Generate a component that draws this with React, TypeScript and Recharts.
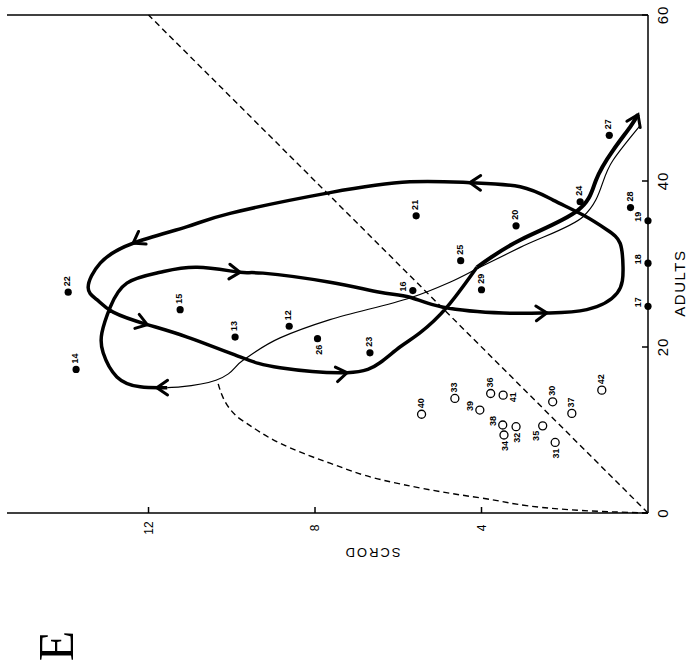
import React from 'react';
import { ComposedChart, XAxis, YAxis, Line, Scatter, ReferenceLine } from 'recharts';

const ADULT_TICKS = [0, 20, 40, 60];
const SCROD_TICKS = [4, 8, 12];

// filled dots: year, adults, scrod
const filledPoints = [
  { id: '12', a: 22.5, s: 8.62 },
  { id: '13', a: 21.2, s: 9.92 },
  { id: '14', a: 17.3, s: 13.74 },
  { id: '15', a: 24.5, s: 11.24 },
  { id: '16', a: 26.8, s: 5.65 },
  { id: '17', a: 24.9, s: 0 },
  { id: '18', a: 30.1, s: 0 },
  { id: '19', a: 35.2, s: 0 },
  { id: '20', a: 34.6, s: 3.17 },
  { id: '21', a: 35.8, s: 5.57 },
  { id: '22', a: 26.6, s: 13.93 },
  { id: '23', a: 19.3, s: 6.68 },
  { id: '24', a: 37.5, s: 1.63 },
  { id: '25', a: 30.4, s: 4.5 },
  { id: '26', a: 21.0, s: 7.94 },
  { id: '27', a: 45.5, s: 0.93 },
  { id: '28', a: 36.8, s: 0.42 },
  { id: '29', a: 26.9, s: 4.0 },
];

// open circles
const openPoints = [
  { id: '30', a: 13.4, s: 2.29 },
  { id: '31', a: 8.5, s: 2.23 },
  { id: '32', a: 10.4, s: 3.17 },
  { id: '33', a: 13.8, s: 4.64 },
  { id: '34', a: 9.4, s: 3.46 },
  { id: '35', a: 10.5, s: 2.53 },
  { id: '36', a: 14.4, s: 3.78 },
  { id: '37', a: 12.0, s: 1.83 },
  { id: '38', a: 10.6, s: 3.49 },
  { id: '39', a: 12.4, s: 4.04 },
  { id: '40', a: 11.9, s: 5.44 },
  { id: '41', a: 14.2, s: 3.48 },
  { id: '42', a: 14.8, s: 1.11 },
];

// heavy trajectory, in time order
const trajectory = [
  { a: 15.1, s: 11.55 }, { a: 15.2, s: 12.2 }, { a: 16.4, s: 12.76 }, { a: 19.3, s: 13.09 },
  { a: 21.7, s: 13.12 }, { a: 24.8, s: 12.92 }, { a: 27.7, s: 12.52 }, { a: 29.0, s: 11.72 },
  { a: 29.6, s: 10.83 }, { a: 29.0, s: 9.8 }, { a: 28.9, s: 9.25 }, { a: 27.8, s: 7.64 },
  { a: 26.6, s: 6.44 }, { a: 26.0, s: 5.72 }, { a: 24.8, s: 4.92 }, { a: 24.1, s: 3.48 },
  { a: 24.1, s: 2.43 }, { a: 24.5, s: 1.47 }, { a: 26.5, s: 0.74 }, { a: 29.6, s: 0.6 },
  { a: 32.5, s: 0.67 }, { a: 34.1, s: 0.98 }, { a: 35.9, s: 1.56 }, { a: 37.7, s: 2.28 },
  { a: 39.3, s: 3.07 }, { a: 39.8, s: 4.28 }, { a: 39.9, s: 5.72 }, { a: 38.6, s: 7.64 },
  { a: 36.1, s: 10.04 }, { a: 34.5, s: 11.07 }, { a: 32.5, s: 12.37 }, { a: 30.1, s: 13.16 },
  { a: 27.2, s: 13.45 }, { a: 25.7, s: 13.24 }, { a: 24.2, s: 12.85 }, { a: 22.7, s: 12.03 },
  { a: 21.2, s: 11.07 }, { a: 18.8, s: 9.8 }, { a: 17.5, s: 8.84 }, { a: 16.9, s: 7.23 },
  { a: 18.1, s: 6.44 }, { a: 20.0, s: 5.96 }, { a: 21.7, s: 5.48 }, { a: 24.8, s: 4.83 },
  { a: 29.6, s: 4.11 },
];
const finalLeg = [
  { a: 29.6, s: 4.11 }, { a: 32.9, s: 3.07 }, { a: 36.4, s: 1.7 }, { a: 40.1, s: 1.25 },
  { a: 43.7, s: 0.84 }, { a: 46.5, s: 0.43 }, { a: 48.0, s: 0.24 },
];

// thin solid line
const thinLine = [
  { a: 15.1, s: 11.55 }, { a: 15.2, s: 11.24 }, { a: 16.0, s: 10.38 }, { a: 18.4, s: 9.73 },
  { a: 21.1, s: 8.84 }, { a: 23.3, s: 7.64 }, { a: 25.9, s: 5.72 }, { a: 27.8, s: 4.76 },
  { a: 29.6, s: 4.04 }, { a: 32.0, s: 3.07 }, { a: 35.7, s: 1.56 }, { a: 42.5, s: 0.84 },
  { a: 46.6, s: 0.2 },
];

// dashed curve and dashed diagonal
const dashedCurve = [
  { a: 0, s: 0 }, { a: 0.3, s: 1.6 }, { a: 1.8, s: 4.0 }, { a: 4.0, s: 6.4 },
  { a: 6.0, s: 7.64 }, { a: 8.4, s: 8.84 }, { a: 10.8, s: 9.64 }, { a: 11.6, s: 9.87 },
  { a: 16.0, s: 10.35 },
];
const diagonal = [{ a: 0, s: 0 }, { a: 60, s: 12 }];

// arrowheads on the trajectory: position and heading (in data units)
const arrows = [
  { a: 39.8, s: 4.28, da: 0.1, ds: 1.4 },
  { a: 32.5, s: 12.37, da: -2.4, ds: 0.8 },
  { a: 22.7, s: 12.03, da: -1.5, ds: -0.96 },
  { a: 16.9, s: 7.23, da: 0.6, ds: -0.8 },
  { a: 29.0, s: 9.8, da: -0.4, ds: -1.2 },
  { a: 24.1, s: 2.43, da: 0.2, ds: -1.0 },
  { a: 15.1, s: 11.8, da: 0.0, ds: 0.6 },
  { a: 48.0, s: 0.24, da: 4.7, ds: -0.43 },
];

const labelSide: Record<string, string> = {
  '16': 't', '17': 't', '18': 't', '19': 't', '26': 'l',
  '31': 'l', '32': 'l', '34': 'l', '35': 'tl', '38': 't', '39': 't', '41': 'b',
};
const SIDES: Record<string, [number, number, string]> = {
  r: [6, -1, 'start'],
  l: [-6, 1, 'end'],
  t: [4, -10, 'middle'],
  b: [-2, 10, 'middle'],
  tl: [-5, -7, 'end'],
};

const A_MAX = 60;
const S_MAX = 15.4;
const PLOT_W = 498;
const PLOT_H = 641;
const AXIS_X = 60;
const AXIS_Y = 646;
const CHART_W = 568;
const CHART_H = 686;
const FONT = '"Liberation Sans", Arial, sans-serif';

function makePoint(open: boolean) {
  return (props: any) => {
    const { cx, cy, payload } = props;
    const [dx, dy, anchor] = SIDES[labelSide[payload.id] ?? 'r'];
    return (
      <g>
        <circle cx={cx} cy={cy} r={open ? 4 : 3.6} fill={open ? '#fff' : '#000'} stroke="#000" strokeWidth={open ? 1.3 : 0} />
        <text x={cx + dx} y={cy + dy} textAnchor={anchor as any} dominantBaseline="central"
          fontSize={9} fontWeight={700} fontFamily={FONT} fill="#000">{payload.id}</text>
      </g>
    );
  };
}

function ArrowHead(props: any) {
  const { cx, cy, payload } = props;
  const ang = Math.atan2(-payload.ds * PLOT_H / S_MAX, payload.da * PLOT_W / A_MAX);
  const len = 13;
  const spread = 0.6;
  const x1 = cx - len * Math.cos(ang - spread);
  const y1 = cy - len * Math.sin(ang - spread);
  const x2 = cx - len * Math.cos(ang + spread);
  const y2 = cy - len * Math.sin(ang + spread);
  return <path d={`M${x1},${y1} L${cx},${cy} L${x2},${y2}`} stroke="#000" strokeWidth={3} fill="none" strokeLinecap="round" />;
}

function AdultTick(props: any) {
  const { x, payload } = props;
  return (
    <g>
      <line x1={x} x2={x} y1={AXIS_Y} y2={AXIS_Y - 6} stroke="#000" strokeWidth={1.5} />
      <text x={x} y={AXIS_Y + 20} textAnchor="middle" fontSize={15} letterSpacing={1} fontFamily={FONT} fill="#000">{payload.value}</text>
    </g>
  );
}

function ScrodTick(props: any) {
  const { y, payload } = props;
  return (
    <g>
      <line x1={AXIS_X} x2={AXIS_X + 6} y1={y} y2={y} stroke="#000" strokeWidth={1.5} />
      <text x={45} y={y} textAnchor="middle" dominantBaseline="central" fontSize={12} fontFamily={FONT} fill="#000">{payload.value}</text>
    </g>
  );
}

export default function App() {
  return (
    <div style={{ position: 'fixed', left: 0, top: 0, width: 687, height: 665, background: '#fff', overflow: 'hidden' }}>
      <div style={{ position: 'absolute', left: 2, top: 573, width: CHART_W, height: CHART_H, transform: 'rotate(-90deg)', transformOrigin: '0 0' }}>
        <ComposedChart width={CHART_W} height={CHART_H} margin={{ top: 5, right: 10, left: 0, bottom: 0 }}>
          <XAxis type="number" dataKey="a" domain={[0, A_MAX]} ticks={ADULT_TICKS} interval={0}
            height={40} axisLine={{ stroke: '#000', strokeWidth: 1.5 }} tickLine={false} tick={<AdultTick />} />
          <YAxis type="number" dataKey="s" domain={[0, S_MAX]} ticks={SCROD_TICKS} interval={0}
            width={60} axisLine={{ stroke: '#000', strokeWidth: 1.5 }} tickLine={false} tick={<ScrodTick />} />
          <ReferenceLine x={A_MAX} stroke="#000" strokeWidth={1.5} />
          <Line data={diagonal} dataKey="s" type="linear" stroke="#000" strokeWidth={1.4} strokeDasharray="6 4" dot={false} isAnimationActive={false} />
          <Line data={dashedCurve} dataKey="s" type="monotone" stroke="#000" strokeWidth={1.4} strokeDasharray="6 4" dot={false} isAnimationActive={false} />
          <Line data={thinLine} dataKey="s" type="monotone" stroke="#000" strokeWidth={1.2} dot={false} isAnimationActive={false} />
          <Line data={trajectory} dataKey="s" type="natural" stroke="#000" strokeWidth={3.5} dot={false} isAnimationActive={false} />
          <Line data={finalLeg} dataKey="s" type="natural" stroke="#000" strokeWidth={4} dot={false} isAnimationActive={false} />
          <Scatter data={arrows} shape={<ArrowHead />} isAnimationActive={false} />
          <Scatter data={filledPoints} shape={makePoint(false)} isAnimationActive={false} />
          <Scatter data={openPoints} shape={makePoint(true)} isAnimationActive={false} />
        </ComposedChart>
        <svg width={CHART_W} height={CHART_H} style={{ position: 'absolute', left: 0, top: 0, pointerEvents: 'none' }}>
          <text x={AXIS_X + 27.7 * PLOT_W / A_MAX} y={683} textAnchor="middle" fontSize={15} letterSpacing={1.5} fontFamily={FONT} fill="#000">ADULTS</text>
          <text x={21} y={370} transform="rotate(-90 21 370)" textAnchor="middle" dominantBaseline="central" fontSize={13} letterSpacing={2} fontFamily={FONT} fill="#000">SCROD</text>
        </svg>
      </div>
      <svg width={687} height={665} style={{ position: 'absolute', left: 0, top: 0, pointerEvents: 'none' }}>
        <text x={73} y={646} transform="rotate(-90 73 646)" textAnchor="middle" fontSize={50} fontFamily='"Liberation Serif", serif' fill="#000">E</text>
      </svg>
    </div>
  );
}
